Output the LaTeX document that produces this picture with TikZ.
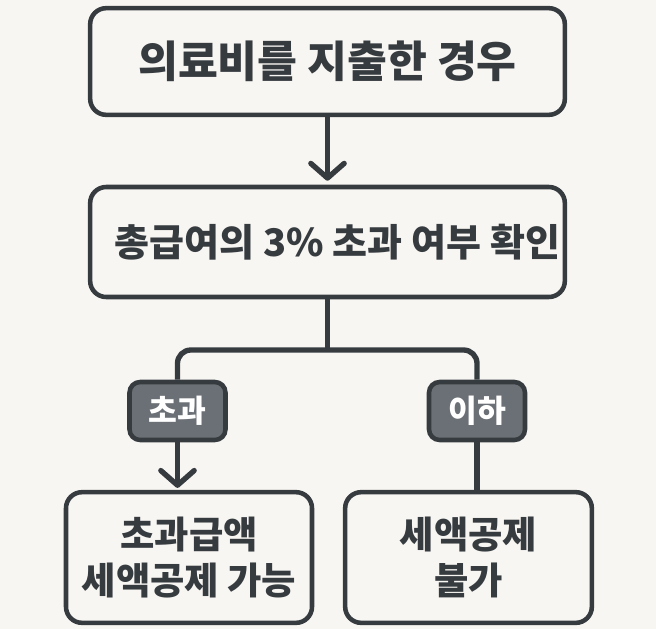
\documentclass[tikz,border=0pt]{standalone}
\usepackage{fontspec}
\newfontfamily\kr{Noto Sans CJK KR}
\usetikzlibrary{arrows.meta}
\definecolor{bg}{HTML}{F8F6F2}
\definecolor{ink}{HTML}{363B40}
\definecolor{tagfill}{HTML}{6B7076}
\begin{document}
\begin{tikzpicture}[x=0.75pt,y=-0.75pt,
  box/.style={draw=ink, line width=3.4pt, rounded corners=12pt, fill=bg,
    text=ink, align=center, inner sep=0pt, font=\kr\bfseries},
  tag/.style={draw=ink, line width=3.4pt, rounded corners=8pt, fill=tagfill,
    text=white, minimum width=72pt, minimum height=43.5pt, inner sep=0pt,
    font=\kr\bfseries\fontsize{23.5}{28}\selectfont},
  link/.style={draw=ink, line width=4pt},
  arr/.style={link, -{Straight Barb[length=11pt, width=25pt, line width=4pt, round]}}]
\fill[bg] (0,0) rectangle (656,629);
\useasboundingbox (0,0) rectangle (656,629);
\node[box, minimum width=356pt, minimum height=80pt,
  font=\kr\bfseries\fontsize{32.5}{38}\selectfont] (b1) at (327.5,61.5) {의료비를 지출한 경우};
\node[box, minimum width=356pt, minimum height=82.5pt,
  font=\kr\bfseries\fontsize{28.5}{34}\selectfont] (b2) at (327.5,242) {\hspace*{15pt}총급여의 3\% 초과 여부 확인};
\node[box, minimum width=184.5pt, minimum height=98pt,
  font=\kr\bfseries\fontsize{28}{35}\selectfont] (b3) at (189,557.5) {초과급액\\세액공제 가능};
\node[box, minimum width=185pt, minimum height=98pt,
  font=\kr\bfseries\fontsize{28}{35}\selectfont] (b4) at (468.5,557.5) {세액공제\\불가};
\node[tag] (t1) at (177.5,411) {초과};
\node[tag] (t2) at (477,411) {이하};
\coordinate (j) at (327.5,350);
\draw[arr] (b1.south) -- ([yshift=3pt]b2.north);
\draw[link] (b2.south) -- (j);
\draw[link, rounded corners=10pt] (t1.north) |- (j) -| (t2.north);
\draw[arr] (t1.south) -- ([yshift=1.5pt]t1.south |- b3.north);
\draw[link] (t2.south) -- (t2.south |- b4.north);
\end{tikzpicture}
\end{document}
